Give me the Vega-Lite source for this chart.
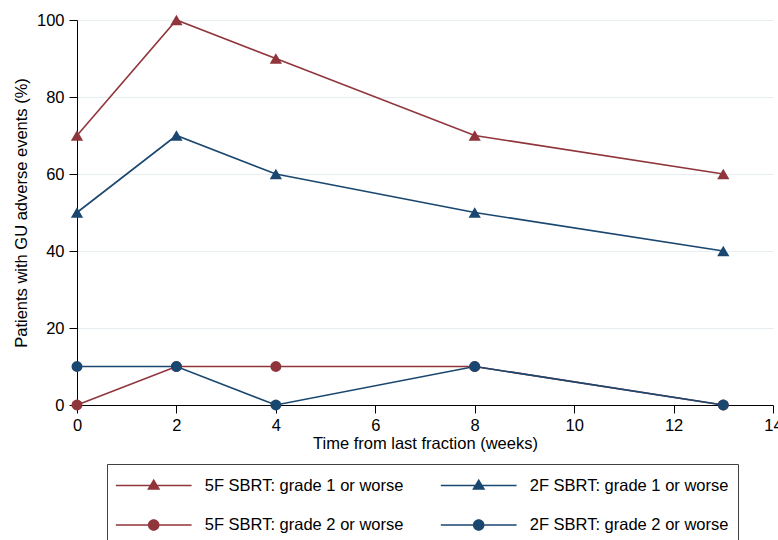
{
  "$schema": "https://vega.github.io/schema/vega-lite/v6.json",
  "width": 696,
  "height": 385,
  "autosize": {"type": "none"},
  "padding": {"left": 77, "top": 20, "right": 5, "bottom": 135},
  "background": "white",
  "config": {"font": "Liberation Sans", "view": {"stroke": null}},
  "data": {
    "values": [
      {"series": "5F SBRT: grade 1 or worse", "grade": 1, "week": 0, "pct": 70},
      {"series": "5F SBRT: grade 1 or worse", "grade": 1, "week": 2, "pct": 100},
      {"series": "5F SBRT: grade 1 or worse", "grade": 1, "week": 4, "pct": 90},
      {"series": "5F SBRT: grade 1 or worse", "grade": 1, "week": 8, "pct": 70},
      {"series": "5F SBRT: grade 1 or worse", "grade": 1, "week": 13, "pct": 60},
      {"series": "2F SBRT: grade 1 or worse", "grade": 1, "week": 0, "pct": 50},
      {"series": "2F SBRT: grade 1 or worse", "grade": 1, "week": 2, "pct": 70},
      {"series": "2F SBRT: grade 1 or worse", "grade": 1, "week": 4, "pct": 60},
      {"series": "2F SBRT: grade 1 or worse", "grade": 1, "week": 8, "pct": 50},
      {"series": "2F SBRT: grade 1 or worse", "grade": 1, "week": 13, "pct": 40},
      {"series": "5F SBRT: grade 2 or worse", "grade": 2, "week": 0, "pct": 0},
      {"series": "5F SBRT: grade 2 or worse", "grade": 2, "week": 2, "pct": 10},
      {"series": "5F SBRT: grade 2 or worse", "grade": 2, "week": 4, "pct": 10},
      {"series": "5F SBRT: grade 2 or worse", "grade": 2, "week": 8, "pct": 10},
      {"series": "5F SBRT: grade 2 or worse", "grade": 2, "week": 13, "pct": 0},
      {"series": "2F SBRT: grade 2 or worse", "grade": 2, "week": 0, "pct": 10},
      {"series": "2F SBRT: grade 2 or worse", "grade": 2, "week": 2, "pct": 10},
      {"series": "2F SBRT: grade 2 or worse", "grade": 2, "week": 4, "pct": 0},
      {"series": "2F SBRT: grade 2 or worse", "grade": 2, "week": 8, "pct": 10},
      {"series": "2F SBRT: grade 2 or worse", "grade": 2, "week": 13, "pct": 0}
    ]
  },
  "encoding": {
    "x": {
      "field": "week", "type": "quantitative",
      "scale": {"domain": [0, 14], "nice": false, "zero": false},
      "axis": {
        "title": "Time from last fraction (weeks)",
        "values": [0, 2, 4, 6, 8, 10, 12, 14],
        "grid": false,
        "domainColor": "black", "domainWidth": 1,
        "tickColor": "black", "tickSize": 8, "tickWidth": 1,
        "labelFontSize": 16.5, "labelColor": "black", "labelPadding": 4,
        "labelFlush": false, "labelOverlap": false,
        "titleFontSize": 16.5, "titleFontWeight": "normal", "titleColor": "black", "titlePadding": 2
      }
    },
    "y": {
      "field": "pct", "type": "quantitative",
      "scale": {"domain": [0, 100], "nice": false},
      "axis": {
        "title": "Patients with GU adverse events (%)",
        "values": [0, 20, 40, 60, 80, 100],
        "grid": true, "gridColor": "#E6EEF1", "gridWidth": 1,
        "domainColor": "black", "domainWidth": 1,
        "tickColor": "black", "tickSize": 8, "tickWidth": 1,
        "labelFontSize": 16.5, "labelColor": "black", "labelPadding": 5,
        "labelFlush": false, "labelOverlap": false,
        "titleFontSize": 16.5, "titleFontWeight": "normal", "titleColor": "black", "titlePadding": 7
      }
    },
    "color": {
      "field": "series", "type": "nominal",
      "scale": {
        "domain": ["5F SBRT: grade 1 or worse", "5F SBRT: grade 2 or worse", "2F SBRT: grade 1 or worse", "2F SBRT: grade 2 or worse"],
        "range": ["#90353B", "#90353B", "#1A476F", "#1A476F"]
      },
      "legend": null
    }
  },
  "layer": [
    {
      "mark": {"type": "point", "filled": true, "opacity": 0},
      "encoding": {
        "color": {
          "field": "series", "type": "nominal",
          "scale": {
            "domain": ["5F SBRT: grade 1 or worse", "5F SBRT: grade 2 or worse", "2F SBRT: grade 1 or worse", "2F SBRT: grade 2 or worse"],
            "range": ["#90353B", "#90353B", "#1A476F", "#1A476F"]
          },
          "legend": {
            "orient": "none", "legendX": 30, "legendY": 444, "columns": 2, "title": null,
            "symbolSize": 625, "symbolOffset": 25.2, "labelOffset": 38.5, "rowPadding": 18.5, "columnPadding": 36,
            "padding": 9, "strokeColor": "#404040", "fillColor": "white",
            "labelFontSize": 16.5, "labelColor": "black", "labelFont": "Liberation Sans", "labelLimit": 400,
            "symbolOpacity": 1, "symbolStrokeWidth": 0
          }
        },
        "shape": {
          "field": "series", "type": "nominal",
          "scale": {
            "domain": ["5F SBRT: grade 1 or worse", "5F SBRT: grade 2 or worse", "2F SBRT: grade 1 or worse", "2F SBRT: grade 2 or worse"],
            "range": [
              "M-3.03,-0.064H3.03V0.064H-3.03Z M0,-0.536L0.528,0.344H-0.528Z",
              "M-3.03,-0.064H3.03V0.064H-3.03Z M0.464,0A0.464,0.464 0 1,1 -0.464,0A0.464,0.464 0 1,1 0.464,0Z",
              "M-3.03,-0.064H3.03V0.064H-3.03Z M0,-0.536L0.528,0.344H-0.528Z",
              "M-3.03,-0.064H3.03V0.064H-3.03Z M0.464,0A0.464,0.464 0 1,1 -0.464,0A0.464,0.464 0 1,1 0.464,0Z"
            ]
          },
          "legend": {
            "orient": "none", "legendX": 30, "legendY": 444, "columns": 2, "title": null,
            "symbolSize": 625, "symbolOffset": 25.2, "labelOffset": 38.5, "rowPadding": 18.5, "columnPadding": 36,
            "padding": 9, "strokeColor": "#404040", "fillColor": "white",
            "labelFontSize": 16.5, "labelColor": "black", "labelFont": "Liberation Sans", "labelLimit": 400,
            "symbolOpacity": 1, "symbolStrokeWidth": 0
          }
        }
      }
    },
    {"mark": {"type": "line", "strokeWidth": 1.6}, "encoding": {"detail": {"field": "series"}}},
    {
      "transform": [{"filter": "datum.grade == 1"}],
      "mark": {"type": "point", "shape": "triangle-up", "filled": true, "size": 150, "opacity": 1}
    },
    {
      "transform": [{"filter": "datum.grade == 2"}],
      "mark": {"type": "point", "shape": "circle", "filled": true, "size": 120, "opacity": 1}
    }
  ]
}
